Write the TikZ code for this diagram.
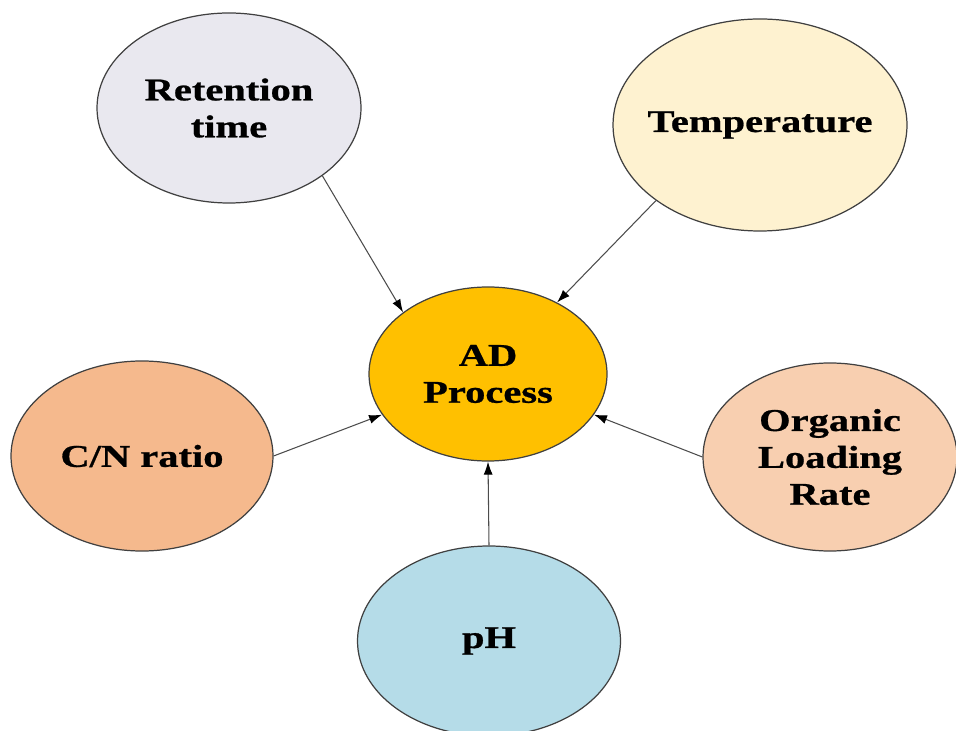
\documentclass[tikz,border=0pt]{standalone}
\usepackage{fontspec}
\setmainfont{Liberation Serif}[FakeStretch=1.28, BoldFeatures={FakeBold=0.8}]
\usepackage{tikz}
\usetikzlibrary{positioning, arrows.meta, shapes.geometric}

\definecolor{retfill}{HTML}{E9E8EF}
\definecolor{tempfill}{HTML}{FEF2D0}
\definecolor{cnfill}{HTML}{F5B98D}
\definecolor{adfill}{HTML}{FFC000}
\definecolor{olrfill}{HTML}{F8CFB0}
\definecolor{phfill}{HTML}{B5DCE8}

\begin{document}
\begin{tikzpicture}[
    factor/.style={draw=black!75, ellipse, line width=0.7pt, inner sep=0pt},
    lbl/.style={align=center, font=\fontsize{18}{21}\selectfont\bfseries},
    link/.style={draw=black!70, line width=0.6pt, -{Latex[length=2.6mm, width=1.8mm, color=black]}},
]
\useasboundingbox (0,0) rectangle (19.12,-14.62);

\node[factor, fill=adfill, minimum width=4.76cm, minimum height=3.48cm,
      label={[lbl]center:AD\\Process}] (ad) at (9.76,-7.48) {};
\node[factor, fill=retfill, minimum width=5.28cm, minimum height=3.8cm,
      label={[lbl]center:Retention\\time}] (ret) at (4.58,-2.16) {};
\node[factor, fill=tempfill, minimum width=5.88cm, minimum height=4.24cm,
      label={[lbl]center:Temperature}] (temp) at (15.2,-2.5) {};
\node[factor, fill=cnfill, minimum width=5.24cm, minimum height=3.8cm,
      label={[lbl]center:C/N ratio}] (cn) at (2.84,-9.12) {};
\node[factor, fill=olrfill, minimum width=5.08cm, minimum height=3.76cm,
      label={[lbl]center:Organic\\Loading\\Rate}] (olr) at (16.6,-9.14) {};
\node[factor, fill=phfill, minimum width=5.26cm, minimum height=3.8cm,
      label={[lbl]center:pH}] (ph) at (9.78,-12.82) {};

\draw[link] (ret.-36) -- (ad.144);
\draw[link] (temp.216) -- (ad.46);
\draw[link] (cn.0) -- (ad.201);
\draw[link] (olr.180) -- (ad.-21);
\draw[link] (ph.90) -- (ad.-90);
\end{tikzpicture}
\end{document}
